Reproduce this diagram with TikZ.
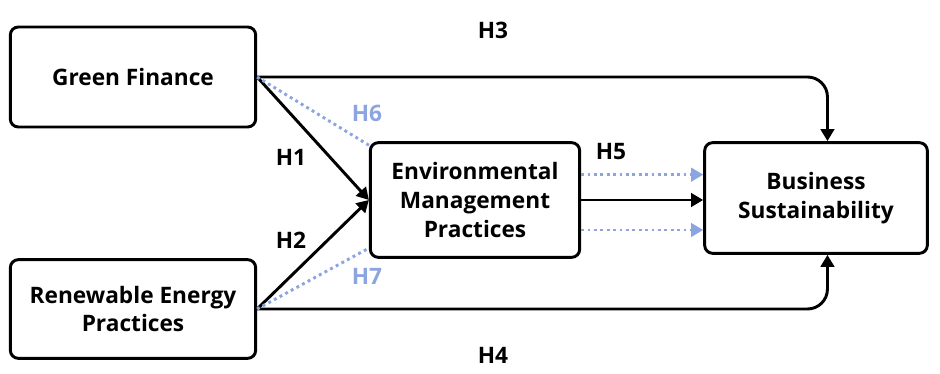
\documentclass[tikz,border=0pt]{standalone}
\usepackage{fontspec}
\setmainfont{Open Sans}
\usetikzlibrary{arrows.meta,positioning}
\definecolor{hblue}{RGB}{140,165,225}
\tikzset{
    construct/.style={draw, line width=2.2pt, rounded corners=6pt, align=center, inner sep=0pt,
                      font=\bfseries\fontsize{17}{21.5}\selectfont},
    path/.style={line width=2.2pt, -{Triangle[length=9pt,width=10pt]}},
    med/.style={line width=2.2pt, hblue, dash pattern=on 2.2pt off 2.6pt},
    medarrow/.style={med, -{Triangle[length=9pt,width=10pt]}},
    hyp/.style={font=\bfseries\fontsize{17}{20}\selectfont},
    hypM/.style={hyp, text=hblue},
}

\begin{document}
\begin{tikzpicture}[x=0.75pt,y=-0.75pt]
    \useasboundingbox (0,0) rectangle (940,374);

    % Constructs
    \node[construct, minimum width=184pt, minimum height=75pt] (GF) at (133,77) {Green Finance};
    \node[construct, minimum width=184pt, minimum height=74pt] (REP) at (133,309) {Renewable Energy\\Practices};
    \node[construct, minimum width=157pt, minimum height=86pt] (EMP) at (475,200) {Environmental\\Management\\Practices};
    \node[construct, minimum width=167pt, minimum height=83pt] (BS) at (816,198) {Business\\Sustainability};

    % Direct effects
    \draw[path, rounded corners=15pt] (GF.east) -| ([xshift=8.6pt]BS.north);
    \draw[path, rounded corners=15pt] (REP.east) -| ([xshift=8.6pt]BS.south);
    \draw[path] (GF.east) -- (EMP.west);
    \draw[path] (REP.east) -- (EMP.west);
    \draw[path] (EMP.east) -- (EMP.east -| BS.west);

    % Mediation
    \draw[med] (GF.east) -- ([yshift=-3pt]EMP.north west);
    \draw[med] (REP.east) -- ([yshift=8pt]EMP.south west);
    \draw[medarrow] ([yshift=19pt]EMP.east) -- ([yshift=19pt]EMP.east -| BS.west);
    \draw[medarrow] ([yshift=-22.5pt]EMP.east) -- ([yshift=-22.5pt]EMP.east -| BS.west);

    % Hypotheses
    \node[hyp] (h1) at (291,157) {H1};
    \node[hyp] (h2) at (291,240) {H2};
    \node[hyp] (h3) at (493,30) {H3};
    \node[hyp] (h4) at (493,355) {H4};
    \node[hyp] (h5) at (611,152) {H5};
    \node[hypM] (h6) at (367,113) {H6};
    \node[hypM] (h7) at (367,276) {H7};
\end{tikzpicture}
\end{document}
